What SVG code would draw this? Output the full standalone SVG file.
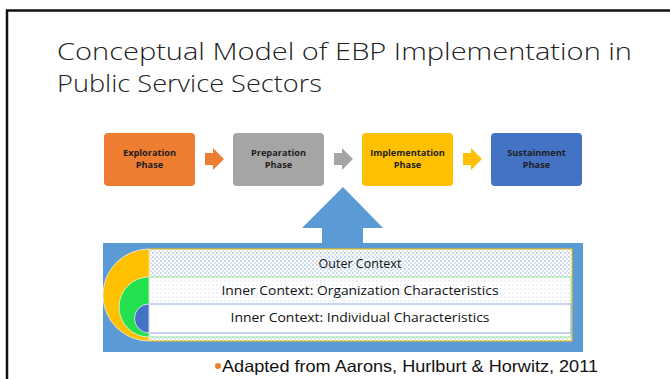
<svg xmlns="http://www.w3.org/2000/svg" width="670" height="379" viewBox="0 0 670 379">
<style>
.phase{font-family:"Open Sans","Noto Sans",sans-serif;font-weight:bold;font-size:9.2px;fill:#1e1e1e;text-anchor:middle}
.ctx{font-family:"Open Sans","Noto Sans",sans-serif;font-size:12.5px;fill:#111;text-anchor:middle}
.title{font-family:"Open Sans","Noto Sans",sans-serif;font-weight:300;font-size:23.5px;fill:#222}
.foot{font-family:"Liberation Sans",Arial,sans-serif;font-size:16.5px;fill:#111}
</style>
<defs>
<pattern id="dots" width="4" height="4" patternUnits="userSpaceOnUse">
<rect width="4" height="4" fill="#ffffff"/>
<rect x="0" y="0" width="2" height="2" fill="#c9d9ee"/>
<rect x="2" y="2" width="2" height="2" fill="#dbe6f4"/>
</pattern>
<pattern id="dots2" width="4" height="4" patternUnits="userSpaceOnUse">
<rect width="4" height="4" fill="#ffffff"/>
<rect x="0" y="0" width="2" height="2" fill="#eef3fa"/>
</pattern>
</defs>
<rect width="670" height="379" fill="#ffffff"/>
<path d="M7,379 V10.5 H670" fill="none" stroke="#111" stroke-width="2.5"/>
<g id="title">
<text class="title" x="57" y="60" textLength="575" lengthAdjust="spacingAndGlyphs">Conceptual Model of EBP Implementation in</text>
<text class="title" x="57" y="92" textLength="265" lengthAdjust="spacingAndGlyphs">Public Service Sectors</text>
</g>
<g id="connectors">
<path d="M205,153 H213 V148 L224,159 L213,170 V165 H205 Z" fill="#ED7D31"/>
<path d="M334,153 H342 V148 L353,159 L342,170 V165 H334 Z" fill="#A5A5A5"/>
<path d="M463,153 H471 V148 L482,159 L471,170 V165 H463 Z" fill="#FFC000"/>
<path d="M343,187 L383,228 H363 V244 H322 V228 H302 Z" fill="#5B9BD5"/>
</g>
<g id="exploration">
<rect x="104" y="133" width="91" height="53" rx="4" fill="#ED7D31"/>
<text class="phase" x="149.5" y="156">Exploration</text>
<text class="phase" x="149.5" y="168">Phase</text>
</g>
<g id="preparation">
<rect x="233" y="133" width="91" height="53" rx="4" fill="#A5A5A5"/>
<text class="phase" x="278.5" y="156">Preparation</text>
<text class="phase" x="278.5" y="168">Phase</text>
</g>
<g id="implementation">
<rect x="362" y="133" width="91" height="53" rx="4" fill="#FFC000"/>
<text class="phase" x="407.5" y="156">Implementation</text>
<text class="phase" x="407.5" y="168">Phase</text>
</g>
<g id="sustainment">
<rect x="491" y="133" width="91" height="53" rx="4" fill="#4472C4"/>
<text class="phase" x="536.5" y="156">Sustainment</text>
<text class="phase" x="536.5" y="168">Phase</text>
</g>
<g id="context">
<rect x="103" y="243" width="480" height="109" fill="#5B9BD5"/>
<rect x="149" y="249" width="423" height="92" fill="url(#dots)" stroke="#FFC000" stroke-width="1"/>
<rect x="149" y="277" width="422" height="60" fill="url(#dots2)" stroke="#8FE39A" stroke-width="1"/>
<rect x="149" y="304" width="422" height="29" fill="#ffffff" stroke="#8EA9DB" stroke-width="1"/>
<path d="M149,249 A46,46 0 0 0 149,341 Z" fill="#FFC000" stroke="#f2f2e0" stroke-width="0.8"/>
<path d="M149,277 A30,30 0 0 0 149,337 Z" fill="#24E04F" stroke="#e8f5e8" stroke-width="0.8"/>
<path d="M149,304 A14.5,14.5 0 0 0 149,333 Z" fill="#4472C4" stroke="#e8eef8" stroke-width="0.8"/>
<text class="ctx" x="360" y="268">Outer Context</text>
<text class="ctx" x="360" y="295" textLength="277" lengthAdjust="spacingAndGlyphs">Inner Context: Organization Characteristics</text>
<text class="ctx" x="360" y="322" textLength="259" lengthAdjust="spacingAndGlyphs">Inner Context: Individual Characteristics</text>
</g>
<g id="footer">
<circle cx="218" cy="366" r="3" fill="#ED7D31"/>
<text class="foot" x="222" y="372" textLength="376" lengthAdjust="spacingAndGlyphs">Adapted from Aarons, Hurlburt &amp; Horwitz, 2011</text>
</g>
</svg>
